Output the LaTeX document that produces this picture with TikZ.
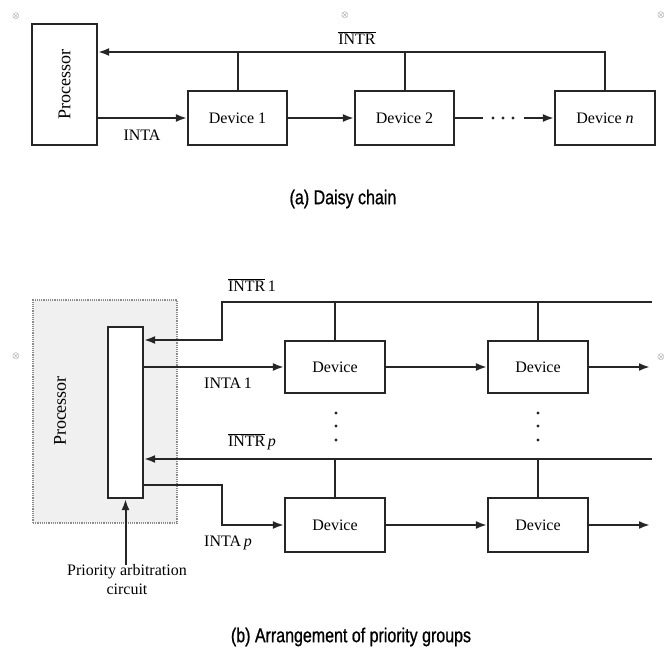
\documentclass[tikz,border=0pt]{standalone}
\usepackage{fontspec}
\setmainfont{Liberation Serif}
\newfontfamily\capfont[FakeStretch=0.8,FakeBold=0.8]{Liberation Sans}
\usetikzlibrary{arrows.meta}
\begin{document}
\begin{tikzpicture}[x=1pt,y=-1pt,
  box/.style={draw=black!85, line width=2.2pt, inner sep=0pt, font=\fontsize{16}{18}\selectfont},
  ln/.style={draw=black!85, line width=2pt},
  arr/.style={ln, -{Latex[length=11pt,width=8pt]}},
  lbl/.style={font=\fontsize{16}{18}\selectfont, inner sep=0pt},
  captext/.style={font=\capfont\fontsize{20}{22}\selectfont, inner sep=0pt},
  mk/.style={font=\fontsize{9}{9}\selectfont, text=black!70, inner sep=0pt},
  dotfill/.style={fill=black!85}]
\useasboundingbox (0,0) rectangle (667,650);

% ---------- (a) daisy chain ----------
\node[box, minimum width=65pt, minimum height=121pt] (proc) at (64.5,84.5)
  {\rotatebox{90}{\fontsize{18}{20}\selectfont Processor}};
\node[box, minimum width=99pt, minimum height=54pt] (dev1) at (237.5,118) {Device 1};
\node[box, minimum width=99pt, minimum height=54pt] (dev2) at (404.5,118) {Device 2};
\node[box, minimum width=100pt, minimum height=54pt] (devn) at (605,118) {Device \textit{n}};
\coordinate (tbus) at (605,52);
\draw[arr] (devn.north) |- (proc.east |- tbus);
\draw[ln] (dev1.north) -- (dev1.north |- tbus);
\draw[ln] (dev2.north) -- (dev2.north |- tbus);
\draw[arr] (proc.east |- dev1.west) -- (dev1.west);
\node[lbl] (inta) at (142,135) {INTA};
\draw[arr] (dev1) -- (dev2);
\coordinate (g1) at (483,118);
\coordinate (g2) at (524,118);
\draw[ln] (dev2.east) -- (g1);
\foreach \x in {493,503,513} \fill[dotfill] (\x,118) circle (1.7pt);
\draw[arr] (g2) -- (devn.west);
\node[lbl] (intr) at (357,38) {$\overline{\hbox{INTR}}$};
\node[captext] (capa) at (343,199) {(a) Daisy chain};

% ---------- (b) priority groups ----------
\node[draw=black!45, densely dotted, line width=1.2pt, fill=black!6,
      minimum width=144pt, minimum height=223pt, inner sep=0pt] (proc2) at (105,411.5) {};
\node[lbl] (ptext) at (60,411) {\rotatebox{90}{\fontsize{18}{20}\selectfont Processor}};
\node[box, fill=white, minimum width=35pt, minimum height=171pt] (arb) at (125.5,412.5) {};

\node[box, minimum width=100pt, minimum height=52pt] (d11) at (335,367) {Device};
\node[box, minimum width=100pt, minimum height=52pt] (d12) at (538,367) {Device};
\node[box, minimum width=100pt, minimum height=54pt] (d21) at (335,525) {Device};
\node[box, minimum width=100pt, minimum height=54pt] (d22) at (538,525) {Device};

% INTR 1 bus
\coordinate (b1r) at (652,302);
\coordinate (b1k) at (222,302);
\coordinate (y1) at (0,340);
\draw[arr] (b1r) -- (b1k) |- (arb.east |- y1);
\draw[ln] (d11.north) -- (d11.north |- b1r);
\draw[ln] (d12.north) -- (d12.north |- b1r);
% INTA 1
\draw[arr] (arb.east |- d11.west) -- (d11.west);
\draw[arr] (d11) -- (d12);
\coordinate (e1) at (650,367);
\draw[arr] (d12.east) -- (e1);
% dots
\foreach \y in {413,426,440} {
  \fill[dotfill] (336,\y) circle (1.7pt);
  \fill[dotfill] (538,\y) circle (1.7pt);
}
% INTR p bus
\coordinate (bpr) at (652,459);
\draw[arr] (bpr) -- (arb.east |- bpr);
\draw[ln] (d21.north) -- (d21.north |- bpr);
\draw[ln] (d22.north) -- (d22.north |- bpr);
% INTA p
\coordinate (ap) at (222,485);
\draw[arr] (arb.east |- ap) -- (ap) |- (d21.west);
\draw[arr] (d21) -- (d22);
\coordinate (e2) at (650,525);
\draw[arr] (d22.east) -- (e2);

% labels
\node[lbl] (lintr1) at (252,285) {$\overline{\hbox{INTR}}$\,1};
\node[lbl] (linta1) at (228,383) {INTA\,1};
\node[lbl] (lintrp) at (252,442) {$\overline{\hbox{INTR}}$\,\textit{p}};
\node[lbl] (lintap) at (228,543) {INTA\,\textit{p}};
\node[lbl, align=center, font=\fontsize{16}{19}\selectfont] (prio) at (127,580) {Priority arbitration\\circuit};
\draw[arr] (prio.north -| arb.south) -- (arb.south);
\node[captext] (capb) at (351,637) {(b) Arrangement of priority groups};

% scan marks
\node[mk] (m1) at (16,16) {$\otimes$};
\node[mk] (m2) at (345,15) {$\otimes$};
\node[mk] (m3) at (661,15) {$\otimes$};
\node[mk] (m4) at (16,356) {$\otimes$};
\node[mk] (m5) at (661,357) {$\otimes$};
\end{tikzpicture}
\end{document}
